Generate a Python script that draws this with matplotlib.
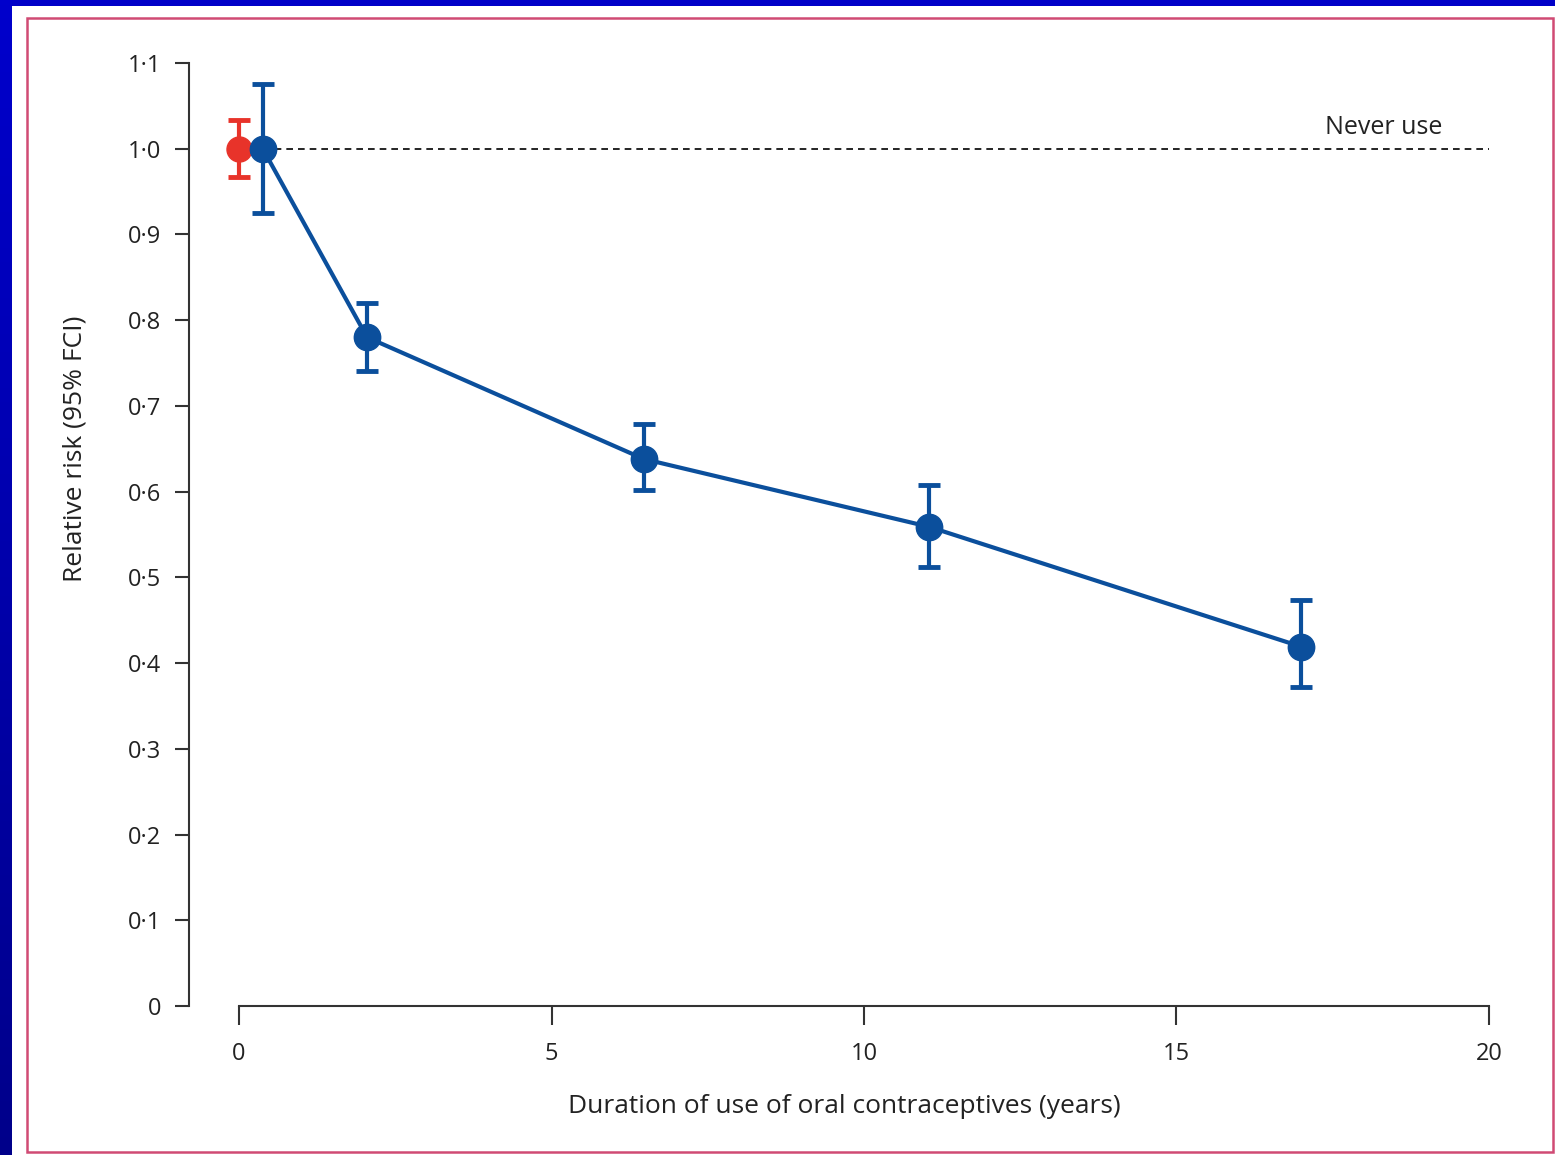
import numpy as np
import matplotlib.pyplot as plt
from matplotlib.colors import LinearSegmentedColormap
from matplotlib.patches import Rectangle

# Pooled relative risk by duration of oral contraceptive use
never_x = [0.0]
never_rr = [1.0]
never_lo = [0.967]
never_hi = [1.033]

years = [0.38, 2.05, 6.48, 11.04, 17.0]
rr = [1.0, 0.78, 0.638, 0.559, 0.419]
ci_lo = [0.925, 0.741, 0.602, 0.512, 0.372]
ci_hi = [1.075, 0.82, 0.679, 0.608, 0.474]

y_ticks = [0, 0.1, 0.2, 0.3, 0.4, 0.5, 0.6, 0.7, 0.8, 0.9, 1.0, 1.1]
y_labels = ["0", "0·1", "0·2", "0·3", "0·4", "0·5", "0·6", "0·7", "0·8", "0·9", "1·0", "1·1"]
x_ticks = [0, 5, 10, 15, 20]

blue = "#0B4F9C"
red = "#E8332A"
ink = "#333333"

plt.rcParams['font.family'] = ['Open Sans', 'DejaVu Sans']

fig = plt.figure(figsize=(15.55, 11.55), dpi=100)
fig.patch.set_facecolor("#0000C8")

# left slide strip: blue fading darker towards the bottom
strip = fig.add_axes([0, 0, 12 / 1555, 1], zorder=-3)
strip.imshow(np.linspace(0, 1, 256).reshape(-1, 1), aspect="auto",
             cmap=LinearSegmentedColormap.from_list("strip", ["#0000CC", "#00008A"]),
             extent=[0, 1, 0, 1], origin="upper")
strip.set_axis_off()

# white slide panel and crimson frame (behind the axes)
fig.patches.append(Rectangle((12 / 1555, 0), 1 - 12 / 1555, 1 - 6 / 1155,
                             transform=fig.transFigure, facecolor="white",
                             edgecolor="none", zorder=-2))
fig.patches.append(Rectangle((27 / 1555, 3 / 1155), 1526 / 1555, 1134 / 1155,
                             transform=fig.transFigure, facecolor="none",
                             edgecolor="#D04A74", linewidth=1.8, zorder=-1))

ax = fig.add_axes([189 / 1555, 1 - 1006 / 1155, (1500 - 189) / 1555, (1006 - 63) / 1155])
ax.set_facecolor("none")
ax.set_xlim(-0.8, 20.176)
ax.set_ylim(0, 1.1)

ax.plot([years[0], 20], [1.0, 1.0], color="black", lw=1.2, ls=(0, (4, 3)), zorder=1)
ax.text(19.25, 1.01, "Never use", ha="right", va="bottom", fontsize=18, color="#222222")

ax.errorbar(years, rr,
            yerr=[[r - l for r, l in zip(rr, ci_lo)], [h - r for r, h in zip(rr, ci_hi)]],
            color=blue, lw=3, marker="o", markersize=19, elinewidth=3,
            capsize=8, capthick=3.5, zorder=3, clip_on=False)
ax.errorbar(never_x, never_rr,
            yerr=[[r - l for r, l in zip(never_rr, never_lo)], [h - r for r, h in zip(never_rr, never_hi)]],
            color=red, marker="o", markersize=18, elinewidth=3,
            capsize=8, capthick=3.5, zorder=2, clip_on=False)

for s in ["top", "right"]:
    ax.spines[s].set_visible(False)
ax.spines["left"].set_bounds(0, 1.1)
ax.spines["bottom"].set_bounds(0, 20)
for s in ["left", "bottom"]:
    ax.spines[s].set_color(ink)
    ax.spines[s].set_linewidth(1.5)

ax.set_yticks(y_ticks)
ax.set_yticklabels(y_labels)
ax.set_xticks(x_ticks)
ax.tick_params(axis="both", length=10, width=1.5, color=ink, labelsize=17,
               labelcolor="#222222")
ax.tick_params(axis="y", pad=10)
ax.tick_params(axis="x", length=14, pad=12)

ax.set_xlabel("Duration of use of oral contraceptives (years)", fontsize=19,
              color="#222222", labelpad=20)
ax.set_ylabel("Relative risk (95% FCI)", fontsize=19, color="#222222")
ax.yaxis.set_label_coords((88 - 189) / 1311, (1006 - 449) / 943)

fig.savefig("out.png", dpi=100, facecolor=fig.get_facecolor())
